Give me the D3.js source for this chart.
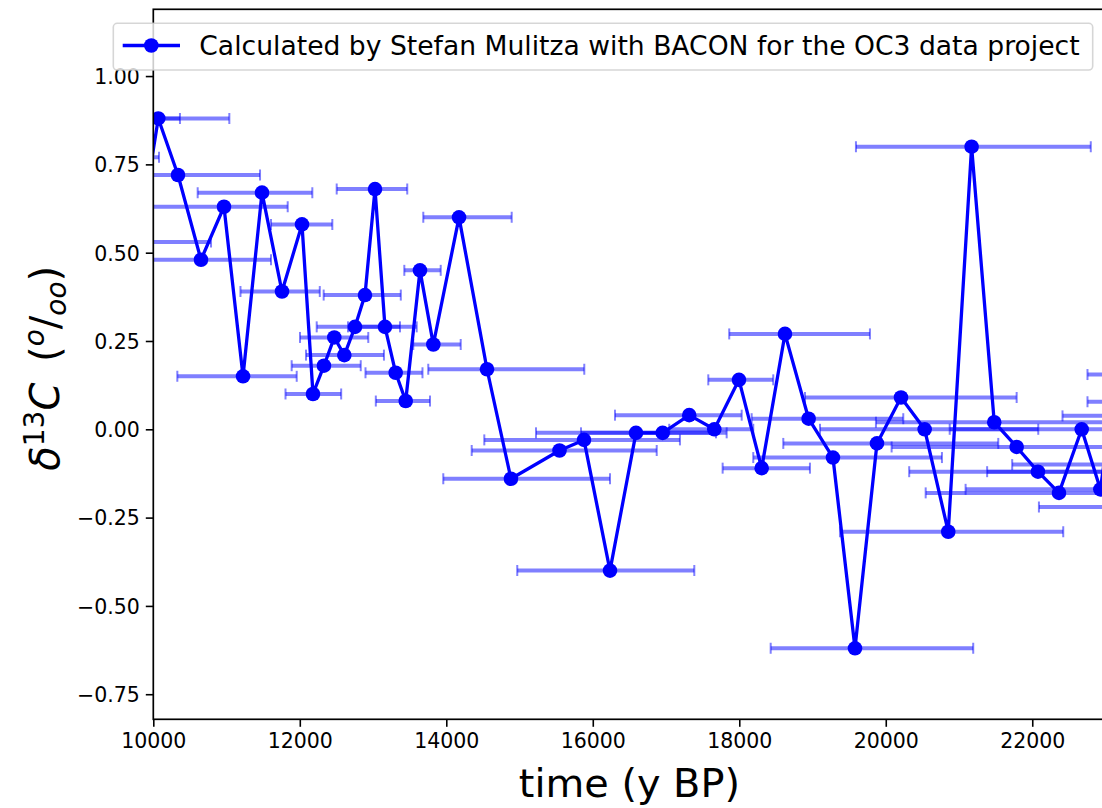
<!DOCTYPE html>
<html><head><meta charset="utf-8">
<script src="https://cdn.jsdelivr.net/npm/d3@7"></script>
<style>html,body{margin:0;padding:0;background:#fff;overflow:hidden;} svg{display:block;font-family:"DejaVu Sans",sans-serif;}</style>
</head><body><svg id="c" width="1102" height="808"></svg>
<script>
// age (y BP) of each sample (some lie outside the x-limits, only their error bars are visible)
const times = [9400, 9600, 9800,
  10068, 10337, 10651, 10965, 11225, 11484, 11757, 12030, 12180, 12330,
  12471, 12608, 12754, 12890, 13027, 13163, 13309, 13446, 13641, 13823,
  14174, 14556, 14883, 15546, 15880, 16235, 16590, 16954, 17317, 17659,
  17996, 18306, 18624, 18947, 19279, 19580, 19880, 20208, 20531, 20853,
  21172, 21481, 21787, 22078, 22365, 22675, 22930,
  23150, 23200, 23300, 23400, 23500, 23600];
// delta 13C (permil)
const values = [0.88, 0.77, 0.53,
  0.88, 0.72, 0.48, 0.63, 0.15, 0.67, 0.39, 0.58, 0.10, 0.18,
  0.26, 0.21, 0.29, 0.38, 0.68, 0.29, 0.16, 0.08, 0.45, 0.24,
  0.60, 0.17, -0.14, -0.06, -0.03, -0.40, -0.01, -0.01, 0.04, 0.00,
  0.14, -0.11, 0.27, 0.03, -0.08, -0.62, -0.04, 0.09, 0.00, -0.29,
  0.80, 0.02, -0.05, -0.12, -0.18, 0.00, -0.17,
  0.155, 0.078, 0.038, -0.10, -0.12, -0.22];
// age uncertainty: lower and upper bound of each sample (y BP)
const ageLow = [8500, 9000, 8800,
  9100, 9200, 9700, 9950, 10328, 10606, 11190, 11607, 11805, 11889,
  12003, 12085, 12231, 12326, 12504, 12658, 12897, 13038, 13427, 13549,
  13686, 13754, 13959, 14347, 14519, 14969, 15225, 15839, 16303, 17044,
  17577, 17773, 17863, 18169, 18191, 18429, 18601, 18897, 19102, 19375,
  19593, 19866, 20080, 20320, 20545, 20873, 21090,
  22754, 22754, 22413, 21726, 21384, 22091];
const ageHigh = [10364, 10078, 10788,
  11038, 11457, 11607, 11835, 11958, 12171, 12273, 12444, 12565, 12832,
  12935, 13149, 13368, 13379, 13467, 13596, 13675, 13778, 13924, 14197,
  14893, 15884, 16235, 16873, 17190, 17386, 17682, 17828, 18033, 18191,
  18464, 18965, 19784, 20239, 20767, 21194, 21536, 21787, 22082, 22423,
  22799, 23100, 23500, 23800, 24000, 24400, 24700,
  23600, 23700, 24100, 25000, 25600, 25000];
const xTicks = [10000, 12000, 14000, 16000, 18000, 20000, 22000];
const yTicks = [-0.75, -0.50, -0.25, 0.00, 0.25, 0.50, 0.75, 1.00];
const legendLabel = "Calculated by Stefan Mulitza with BACON for the OC3 data project";

const svg = d3.select("#c");
const L = 153.3, R = 1105.5, T = 9.3, B = 719.3;
const x = d3.scaleLinear().domain([10000, 23000]).range([L, R]);
const y = d3.scaleLinear().domain([-0.821, 1.189]).range([B, T]);
const blue = "#0000ff";

svg.append("defs").append("clipPath").attr("id", "clip")
  .append("rect").attr("x", L).attr("y", T).attr("width", R - L).attr("height", B - T);

const data = times.map((t, i) => ({t, v: values[i], lo: ageLow[i], hi: ageHigh[i]}));
const plot = svg.append("g").attr("clip-path", "url(#clip)");

// error bars
const eb = plot.append("g");
data.forEach(d => {
  const g = eb.append("g");
  g.append("line").attr("x1", x(d.lo)).attr("x2", x(d.hi)).attr("y1", y(d.v)).attr("y2", y(d.v))
    .attr("stroke", blue).attr("stroke-opacity", 0.5).attr("stroke-width", 4);
  [d.lo, d.hi].forEach(e => g.append("line").attr("x1", x(e)).attr("x2", x(e))
    .attr("y1", y(d.v) - 5.5).attr("y2", y(d.v) + 5.5)
    .attr("stroke", blue).attr("stroke-opacity", 0.5).attr("stroke-width", 2));
});

// line + markers
plot.append("path").datum(data)
  .attr("d", d3.line().x(d => x(d.t)).y(d => y(d.v)))
  .attr("fill", "none").attr("stroke", blue).attr("stroke-width", 3.3).attr("stroke-linejoin", "round");
plot.append("g").selectAll("circle").data(data).join("circle")
  .attr("cx", d => x(d.t)).attr("cy", d => y(d.v)).attr("r", 7.3).attr("fill", blue);

// axes
const xAxis = d3.axisBottom(x).tickValues(xTicks).tickFormat(d3.format("d")).tickSize(7.5).tickSizeOuter(0).tickPadding(6);
const yAxis = d3.axisLeft(y).tickValues(yTicks).tickFormat(d3.format(".2f")).tickSize(7.5).tickSizeOuter(0).tickPadding(6);
const gx = svg.append("g").attr("transform", `translate(0,${B})`).call(xAxis);
const gy = svg.append("g").attr("transform", `translate(${L},0)`).call(yAxis);
[gx, gy].forEach(g => {
  g.select(".domain").remove();
  g.selectAll(".tick line").attr("stroke", "#000").attr("stroke-width", 1.6);
  g.selectAll(".tick text").attr("fill", "#000").attr("font-size", "20.5px").attr("font-family", "DejaVu Sans");
});
gy.selectAll(".tick text").attr("dy", "0.36em");
gx.selectAll(".tick text").attr("dy", "0.72em");

// spines
svg.append("rect").attr("x", L).attr("y", T).attr("width", R - L).attr("height", B - T)
  .attr("fill", "none").attr("stroke", "#000").attr("stroke-width", 1.7);

// axis labels
svg.append("text").attr("x", (L + R) / 2).attr("y", 797).attr("text-anchor", "middle")
  .attr("font-size", "39.8px").attr("fill", "#000").text("time (y BP)");

const yl = svg.append("text").attr("transform", `translate(59,${(T + B) / 2 + 4}) rotate(-90)`)
  .attr("text-anchor", "middle").attr("font-size", "40px").attr("fill", "#000");
yl.append("tspan").attr("font-style", "italic").text("δ");
yl.append("tspan").attr("font-size", "28px").attr("dy", "-15").text("13");
yl.append("tspan").attr("font-style", "italic").attr("dy", "15").text("C");
yl.append("tspan").text("\u2009 (");
yl.append("tspan").attr("font-style", "italic").attr("font-size", "28px").attr("dy", "-15").text("o");
yl.append("tspan").attr("dy", "15").text("/");
yl.append("tspan").attr("font-style", "italic").attr("font-size", "28px").attr("dy", "7").text("oo");
yl.append("tspan").attr("dy", "-7").text(")");

// legend
const lg = svg.append("g");
lg.append("rect").attr("x", 113.3).attr("y", 23.3).attr("width", 979.4).attr("height", 46.7).attr("rx", 4)
  .attr("fill", "#fff").attr("fill-opacity", 0.8).attr("stroke", "#cccccc").attr("stroke-opacity", 0.8).attr("stroke-width", 1.6);
lg.append("line").attr("x1", 122.7).attr("x2", 180).attr("y1", 45.5).attr("y2", 45.5)
  .attr("stroke", blue).attr("stroke-width", 3.3);
lg.append("circle").attr("cx", 151.3).attr("cy", 45.5).attr("r", 7.3).attr("fill", blue);
lg.append("text").attr("x", 199.3).attr("y", 54.5).attr("font-size", "26.6px").attr("fill", "#000").text(legendLabel);
</script></body></html>
